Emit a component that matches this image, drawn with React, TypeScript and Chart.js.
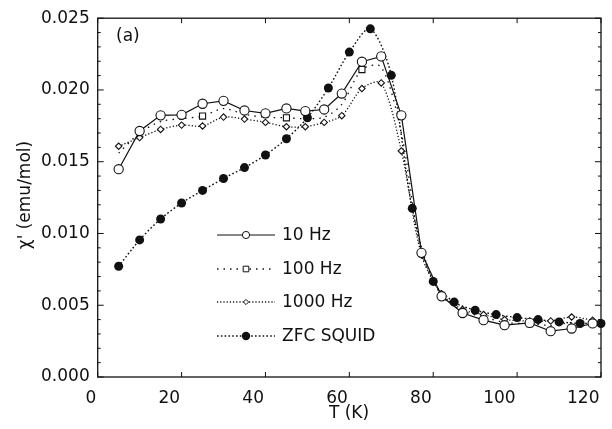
import React, { useEffect, useRef } from 'react';
import { Chart, registerables } from 'chart.js';

Chart.register(...registerables);

// ---- data ----
const tempsAC = [5, 10, 15, 20, 25, 30, 35, 40, 45, 49.5, 54, 58.2, 63, 67.6, 72.4, 77.2, 82, 87, 92, 97, 103, 108, 113, 118];
const chi10Hz = [0.01448, 0.01714, 0.01823, 0.01827, 0.01904, 0.01924, 0.01857, 0.01837, 0.01871, 0.01853, 0.01864, 0.01975, 0.02197, 0.02234, 0.01823, 0.00865, 0.00562, 0.00446, 0.00396, 0.00361, 0.00377, 0.00319, 0.00338, 0.00373];
const chi100Hz = [0.0156, 0.0170, 0.0178, 0.0180, 0.01818, 0.0187, 0.0183, 0.0181, 0.01806, 0.0180, 0.0181, 0.0190, 0.02142, 0.0216, 0.0170, 0.0087, 0.00569, 0.0046, 0.0042, 0.0038, 0.00372, 0.0036, 0.0038, 0.0038];
const marked100Hz = [4, 8, 12, 16, 20];
const chi1000Hz = [0.01608, 0.01668, 0.01725, 0.01755, 0.01749, 0.01811, 0.01797, 0.01774, 0.01744, 0.01744, 0.01774, 0.01821, 0.0201, 0.02049, 0.01575, 0.0085, 0.0058, 0.0047, 0.00435, 0.004, 0.0039, 0.00391, 0.00418, 0.00396];
const tempsZFC = [5, 10, 15, 20, 25, 30, 35, 40, 45, 50, 55, 60, 65, 70, 75, 80, 85, 90, 95, 100, 105, 110, 115, 120];
const chiZFC = [0.00772, 0.00955, 0.01101, 0.01212, 0.0130, 0.01383, 0.01459, 0.01547, 0.0166, 0.01806, 0.02014, 0.02264, 0.02426, 0.02102, 0.01175, 0.00666, 0.00522, 0.00465, 0.00435, 0.00414, 0.0040, 0.00384, 0.00373, 0.00373];

const xTickValues = [0, 20, 40, 60, 80, 100, 120];
const yTickValues = [0, 0.005, 0.01, 0.015, 0.02, 0.025];
const yMinorStep = 0.001;
const seriesNames = ['10 Hz', '100 Hz', '1000 Hz', 'ZFC SQUID'];
const panelLabel = '(a)';
const xTitle = 'T (K)';
const yTitle = "\u03c7' (emu/mol)";

const INK = '#111';
const FONT = 'DejaVu Sans';

const pts = (xs: number[], ys: number[]) => xs.map((x, i) => ({ x, y: ys[i] }));

const dashes: number[][] = [[], [1.5, 5], [1.2, 2], [1.6, 2.2]];

function drawMarker(ctx: CanvasRenderingContext2D, kind: number, x: number, y: number) {
  ctx.save();
  ctx.setLineDash([]);
  ctx.lineWidth = 1;
  ctx.strokeStyle = INK;
  ctx.fillStyle = '#fff';
  ctx.beginPath();
  if (kind === 0) {
    ctx.arc(x, y, 3.6, 0, Math.PI * 2);
    ctx.fill();
    ctx.stroke();
  } else if (kind === 1) {
    ctx.rect(x - 2.8, y - 2.8, 5.6, 5.6);
    ctx.fill();
    ctx.stroke();
  } else if (kind === 2) {
    ctx.moveTo(x, y - 2.6);
    ctx.lineTo(x + 2.6, y);
    ctx.lineTo(x, y + 2.6);
    ctx.lineTo(x - 2.6, y);
    ctx.closePath();
    ctx.fill();
    ctx.stroke();
  } else {
    ctx.fillStyle = INK;
    ctx.arc(x, y, 4.2, 0, Math.PI * 2);
    ctx.fill();
  }
  ctx.restore();
}

const framePlugin = {
  id: 'frameAndLegend',
  beforeDraw(chart: any) {
    const { ctx, width, height } = chart;
    ctx.save();
    ctx.fillStyle = '#fff';
    ctx.fillRect(0, 0, width, height);
    ctx.restore();
  },
  afterDraw(chart: any) {
    const { ctx, chartArea: a } = chart;
    const xs = chart.scales.x;
    const ys = chart.scales.y;
    ctx.save();
    ctx.strokeStyle = INK;
    ctx.lineWidth = 1.3;
    ctx.setLineDash([]);
    ctx.strokeRect(a.left, a.top, a.right - a.left, a.bottom - a.top);
    // x ticks (inward, bottom and top)
    ctx.lineWidth = 1;
    ctx.beginPath();
    xTickValues.forEach((v) => {
      const px = xs.getPixelForValue(v);
      ctx.moveTo(px, a.bottom);
      ctx.lineTo(px, a.bottom - 5);
      ctx.moveTo(px, a.top);
      ctx.lineTo(px, a.top + 5);
    });
    // y ticks major + minor
    const yMax = yTickValues[yTickValues.length - 1];
    for (let k = 0; k * yMinorStep <= yMax + 1e-9; k++) {
      const v = k * yMinorStep;
      const py = ys.getPixelForValue(v);
      const len = k % 5 === 0 ? 6 : 3;
      ctx.moveTo(a.left, py);
      ctx.lineTo(a.left + len, py);
      ctx.moveTo(a.right, py);
      ctx.lineTo(a.right - len, py);
    }
    ctx.stroke();

    // panel label
    ctx.fillStyle = INK;
    ctx.font = `17px ${FONT}`;
    ctx.textAlign = 'left';
    ctx.textBaseline = 'middle';
    ctx.fillText(panelLabel, 116, 37);

    // axis titles
    ctx.textAlign = 'center';
    ctx.fillText(xTitle, 349, 414);
    ctx.save();
    ctx.translate(26, 195);
    ctx.rotate(-Math.PI / 2);
    ctx.fillText(yTitle, 0, 0);
    ctx.restore();

    // legend
    const rows = [235, 269, 302, 336];
    seriesNames.forEach((name, i) => {
      const y = rows[i];
      ctx.save();
      ctx.strokeStyle = INK;
      ctx.lineWidth = i === 0 ? 1.1 : 1.3;
      ctx.setLineDash(dashes[i]);
      ctx.beginPath();
      ctx.moveTo(217, y);
      ctx.lineTo(275, y);
      ctx.stroke();
      ctx.restore();
      drawMarker(ctx, i, 246, y);
      ctx.fillStyle = INK;
      ctx.font = `17px ${FONT}`;
      ctx.textAlign = 'left';
      ctx.textBaseline = 'middle';
      ctx.fillText(name, 282, y + 1);
    });
    ctx.restore();
  },
};

export default function App() {
  const ref = useRef<HTMLCanvasElement | null>(null);
  useEffect(() => {
    if (!ref.current) return;
    const chart = new Chart(ref.current, {
      type: 'scatter',
      data: {
        datasets: [
          {
            label: seriesNames[0],
            data: pts(tempsAC, chi10Hz),
            showLine: true,
            borderColor: INK,
            borderWidth: 1.2,
            tension: 0,
            pointStyle: 'circle',
            pointRadius: 4.6,
            pointBackgroundColor: '#fff',
            pointBorderColor: INK,
            pointBorderWidth: 1.1,
            clip: false,
          },
          {
            label: seriesNames[1],
            data: pts(tempsAC, chi100Hz),
            showLine: true,
            borderColor: INK,
            borderWidth: 1.3,
            borderDash: dashes[1],
            tension: 0.3,
            pointStyle: 'rect',
            pointRadius: tempsAC.map((_, i) => (marked100Hz.includes(i) ? 4.3 : 0)),
            pointBackgroundColor: '#fff',
            pointBorderColor: INK,
            pointBorderWidth: 1.1,
            clip: false,
          },
          {
            label: seriesNames[2],
            data: pts(tempsAC, chi1000Hz),
            showLine: true,
            borderColor: INK,
            borderWidth: 1.3,
            borderDash: dashes[2],
            tension: 0.3,
            pointStyle: 'rectRot',
            pointRadius: 3.2,
            pointBackgroundColor: '#fff',
            pointBorderColor: INK,
            pointBorderWidth: 1.1,
            clip: false,
          },
          {
            label: seriesNames[3],
            data: pts(tempsZFC, chiZFC),
            showLine: true,
            borderColor: INK,
            borderWidth: 1.4,
            borderDash: dashes[3],
            tension: 0.3,
            pointStyle: 'circle',
            pointRadius: 4.5,
            pointBackgroundColor: INK,
            pointBorderColor: INK,
            pointBorderWidth: 0,
            clip: false,
          },
        ],
      },
      options: {
        responsive: false,
        animation: false,
        devicePixelRatio: 1,
        layout: { padding: { left: 0, top: 16.7, right: 10.3, bottom: 0 } },
        plugins: {
          legend: { display: false },
          tooltip: { enabled: false },
          title: { display: false },
        },
        scales: {
          x: {
            type: 'linear',
            min: 0,
            max: 120,
            afterFit: (s: any) => { s.height = 52; },
            afterBuildTicks: (s: any) => { s.ticks = xTickValues.map((v) => ({ value: v })); },
            grid: { display: false, drawTicks: false },
            border: { display: false },
            ticks: {
              align: 'end',
              labelOffset: -1.5,
              padding: 11,
              color: INK,
              font: { family: FONT, size: 17 },
              callback: (v: any) => String(v),
            },
          },
          y: {
            type: 'linear',
            min: 0,
            max: 0.025,
            afterFit: (s: any) => { s.width = 97.7; },
            afterBuildTicks: (s: any) => { s.ticks = yTickValues.map((v) => ({ value: v })); },
            grid: { display: false, drawTicks: false },
            border: { display: false },
            ticks: {
              padding: 8,
              color: INK,
              font: { family: FONT, size: 17 },
              callback: (v: any) => Number(v).toFixed(3),
            },
          },
        },
      },
      plugins: [framePlugin],
    } as any);
    return () => chart.destroy();
  }, []);
  return (
    <div style={{ position: 'fixed', left: 0, top: 0, width: 612, height: 429, background: '#fff' }}>
      <canvas ref={ref} width={612} height={429} style={{ display: 'block', width: 612, height: 429 }} />
    </div>
  );
}
